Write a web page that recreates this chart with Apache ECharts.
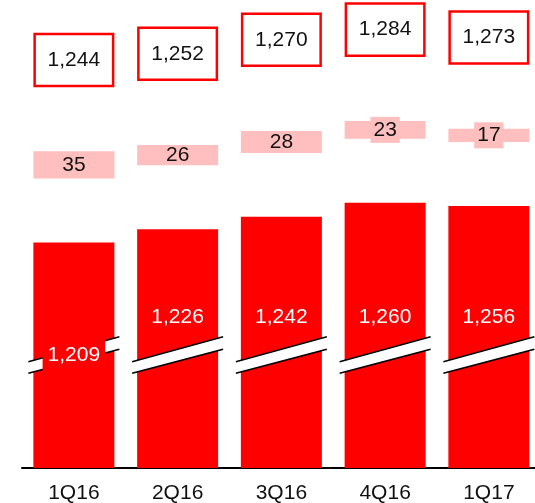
<!DOCTYPE html>
<html>
<head>
<meta charset="utf-8">
<style>
  html, body { margin: 0; padding: 0; background: #fff; }
  #chart { width: 535px; height: 503px; }
</style>
<script src="https://cdn.jsdelivr.net/npm/echarts@6/dist/echarts.min.js"></script>
</head>
<body>
<div id="chart"></div>
<script>
// Quarterly values: base amount, increment on top, and the resulting total
const quarters = ['1Q16', '2Q16', '3Q16', '4Q16', '1Q17'];
const baseValues = [1209, 1226, 1242, 1260, 1256];
const addedValues = [35, 26, 28, 23, 17];
const totalValues = [1244, 1252, 1270, 1284, 1273];

const FONT = '"Liberation Sans", Arial, sans-serif';
const FS = 21;
const RED = '#ff0000';
const PINK = '#ffbfbf';
const Y_MIN = 920;
const Y_MAX = 1520;
const GAP = 82;        // empty space between stacked pieces (axis units)
const BOX = 70;        // height of the total box (axis units)
const BAR_W = 81;
const PX_PER_UNIT = 468 / (Y_MAX - Y_MIN);

const fmt = v => v.toLocaleString('en-US');

const chart = echarts.init(document.getElementById('chart'), null, { renderer: 'canvas' });

const spacer = () => ({
  type: 'bar', stack: 'q', barWidth: BAR_W, silent: true,
  itemStyle: { color: 'transparent' },
  data: quarters.map(() => GAP)
});

// thin increment bars get a small pink plate behind their label
const addedData = addedValues.map(v => {
  const thin = v * PX_PER_UNIT < 19;
  return {
    value: v,
    label: thin ? { backgroundColor: PINK, padding: [2, 3] } : { padding: 0 }
  };
});

chart.setOption({
  animation: false,
  grid: { left: 22, right: -5.75, top: 0, bottom: 35, outerBoundsMode: 'none', containLabel: false },
  xAxis: {
    type: 'category',
    data: quarters,
    axisLine: { lineStyle: { color: '#000', width: 2 } },
    axisTick: { show: false },
    axisLabel: { color: '#111', fontSize: FS, fontFamily: FONT, margin: 15 }
  },
  yAxis: {
    type: 'value', min: Y_MIN, max: Y_MAX,
    show: false, splitLine: { show: false }
  },
  series: [
    {
      name: 'base', type: 'bar', stack: 'q', barWidth: BAR_W,
      itemStyle: { color: RED },
      data: baseValues
    },
    spacer(),
    {
      name: 'added', type: 'bar', stack: 'q', barWidth: BAR_W,
      itemStyle: { color: PINK },
      label: {
        show: true, position: 'inside', color: '#111', fontSize: FS, fontFamily: FONT,
        lineHeight: 22,
        formatter: p => fmt(p.value)
      },
      data: addedData
    },
    spacer(),
    {
      name: 'total', type: 'bar', stack: 'q', barWidth: BAR_W,
      itemStyle: { color: '#fff', borderColor: RED, borderWidth: 2.5 },
      label: {
        show: true, position: 'inside', color: '#111', fontSize: FS, fontFamily: FONT,
        formatter: p => fmt(totalValues[p.dataIndex])
      },
      data: quarters.map(() => BOX)
    },
    {
      // axis-break stripes across each base bar, plus the base value label
      name: 'break', type: 'custom', z: 3, silent: true,
      data: quarters.map((q, i) => [i, baseValues[i]]),
      encode: { x: 0, y: 1 },
      renderItem: (params, api) => {
        const i = api.value(0);
        const bottom = api.coord([i, Y_MIN]);
        const cx = bottom[0], by = bottom[1];
        const half = BAR_W / 2 + 5;
        const l = cx - half, r = cx + half;
        const tl = by - 106.3, tr = by - 131.3, bl = by - 94.7, br = by - 118.7;
        const lift = i === 0 ? 113 : 151;
        return {
          type: 'group',
          children: [
            { type: 'polygon', shape: { points: [[l, tl], [r, tr], [r, br], [l, bl]] },
              style: { fill: '#fff' } },
            { type: 'line', shape: { x1: l, y1: tl, x2: r, y2: tr },
              style: { stroke: '#000', lineWidth: 1.6 } },
            { type: 'line', shape: { x1: l, y1: bl, x2: r, y2: br },
              style: { stroke: '#000', lineWidth: 1.6 } },
            { type: 'text', z2: 10,
              style: {
                text: fmt(api.value(1)), x: cx, y: by - lift,
                align: 'center', verticalAlign: 'middle',
                fill: '#fff', font: FS + 'px ' + FONT,
                backgroundColor: RED, padding: [5, 5]
              } }
          ]
        };
      }
    }
  ]
});
</script>
</body>
</html>
